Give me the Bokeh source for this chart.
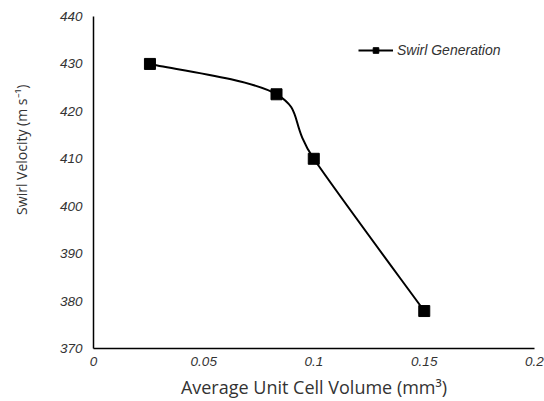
from bokeh.plotting import figure
from bokeh.models import Range1d, FixedTicker, Title, Legend, LegendItem, LinearAxis
from bokeh.embed import file_html
from bokeh.resources import INLINE

# Swirl generation vs. average unit cell volume
volume = [0.0256, 0.083, 0.0999, 0.15]
swirl = [430.0, 423.6, 410.0, 377.9]

x_ticks = [0, 0.05, 0.1, 0.15, 0.2]
x_tick_labels = ["0", "0.05", "0.1", "0.15", "0.2"]
y_ticks = [370, 380, 390, 400, 410, 420, 430, 440]

p = figure(width=544, height=401, output_backend="svg", toolbar_location=None,
           x_range=Range1d(0, 0.2), y_range=Range1d(370, 440),
           min_border_left=0, min_border_right=10, min_border_top=16, min_border_bottom=0)
p.grid.visible = False
p.outline_line_color = None
p.background_fill_color = "white"
p.border_fill_color = "white"

# smoothed line: cubic Bezier segments with control points from neighbouring points
pts = list(zip(volume, swirl))
n = len(pts)
x0s, y0s, x1s, y1s, cx0, cy0, cx1, cy1 = [], [], [], [], [], [], [], []
for i in range(n - 1):
    pm = pts[max(i - 1, 0)]
    pa = pts[i]
    pb = pts[i + 1]
    pn = pts[min(i + 2, n - 1)]
    x0s.append(pa[0]); y0s.append(pa[1])
    x1s.append(pb[0]); y1s.append(pb[1])
    cx0.append(pa[0] + (pb[0] - pm[0]) / 6); cy0.append(pa[1] + (pb[1] - pm[1]) / 6)
    cx1.append(pb[0] - (pn[0] - pa[0]) / 6); cy1.append(pb[1] - (pn[1] - pa[1]) / 6)

line = p.bezier(x0=x0s, y0=y0s, x1=x1s, y1=y1s, cx0=cx0, cy0=cy0, cx1=cx1, cy1=cy1,
                line_color="black", line_width=2)
pts_r = p.scatter(volume, swirl, marker="square", size=11, color="black")

for ax in (p.xaxis[0], p.yaxis[0]):
    ax.major_tick_line_color = None
    ax.minor_tick_line_color = None
    ax.major_tick_out = 0
    ax.major_tick_in = 0
    ax.minor_tick_out = 0
    ax.axis_line_color = "black"
    ax.axis_line_width = 1.5
    ax.major_label_text_font = "Liberation Sans"
    ax.major_label_text_font_style = "italic"
    ax.major_label_text_font_size = "13.5px"
    ax.major_label_text_color = "#333333"

p.xaxis.ticker = FixedTicker(ticks=x_ticks)
p.xaxis.major_label_overrides = {t: s for t, s in zip(x_ticks, x_tick_labels)}
p.xaxis.major_label_standoff = 8
p.xaxis.axis_label = "Average Unit Cell Volume (mm³)"
p.xaxis.axis_label_text_font = "Open Sans"
p.xaxis.axis_label_text_font_style = "normal"
p.xaxis.axis_label_text_font_size = "18px"
p.xaxis.axis_label_text_color = "#333333"
p.xaxis.axis_label_standoff = 6

p.yaxis.ticker = FixedTicker(ticks=y_ticks)
p.yaxis.major_label_standoff = 11

# blank gap between the tick labels and the vertical title
gap = LinearAxis(ticker=FixedTicker(ticks=[405]), major_label_overrides={405: ""},
                 axis_line_color=None, major_tick_line_color=None, minor_tick_line_color=None,
                 major_tick_out=14, major_tick_in=0, minor_tick_out=0, minor_tick_in=0,
                 major_label_standoff=0, major_label_text_font_size="1px")
p.add_layout(gap, "left")

# vertical title, anchored from the top of the axis
p.add_layout(Title(text="Swirl Velocity (m s⁻¹)", align="right", vertical_align="middle",
                   offset=68, standoff=21,
                   text_font="Open Sans", text_font_size="14px", text_font_style="normal",
                   text_color="#333333"), "left")

legend = Legend(items=[LegendItem(label="Swirl Generation", renderers=[line, pts_r])],
                location=(265, 290), orientation="vertical",
                glyph_width=35, glyph_height=14, label_standoff=4,
                label_text_font="Liberation Sans", label_text_font_style="italic",
                label_text_font_size="14px", label_text_color="#333333",
                border_line_color=None, background_fill_alpha=0,
                padding=0, margin=0, spacing=0)
p.add_layout(legend)

open("out.html", "w").write(file_html(p, INLINE))
